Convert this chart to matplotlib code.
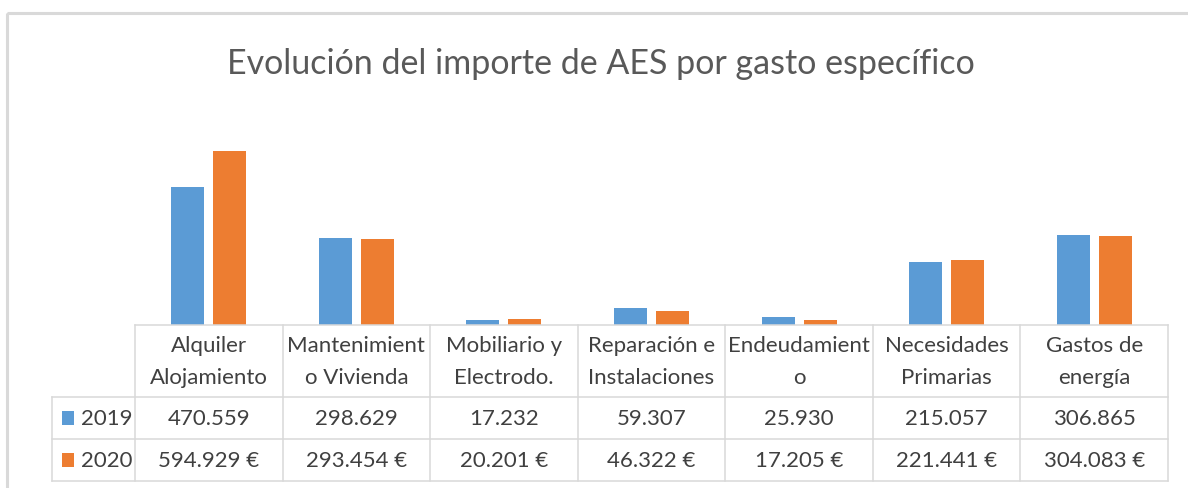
import numpy as np
import matplotlib.pyplot as plt
from matplotlib.patches import Rectangle

# data
categorias = ['Alquiler\nAlojamiento', 'Mantenimient\no Vivienda', 'Mobiliario y\nElectrodo.',
              'Reparación e\nInstalaciones', 'Endeudamient\no', 'Necesidades\nPrimarias',
              'Gastos de\nenergía']
anios = ['2019', '2020']
importe_2019 = [470559, 298629, 17232, 59307, 25930, 215057, 306865]
importe_2020 = [594929, 293454, 20201, 46322, 17205, 221441, 304083]

azul = '#5B9BD5'
naranja = '#ED7D31'
gris_linea = '#D9D9D9'
gris_texto = '#404040'

plt.rcParams['font.family'] = ['Lato', 'DejaVu Sans']

W, H = 1188, 489
fig = plt.figure(figsize=(W / 100, H / 100), dpi=100)

# pixel layout
t_left, t_right = 135, 1168
y_base = 326
px_per_unit = 0.2925  # px per 1000 EUR
ymax = 700

ax = fig.add_axes([t_left / W, 1 - y_base / H, (t_right - t_left) / W, ymax * px_per_unit / H])
x = np.arange(len(categorias))
ax.bar(x - 0.1425, np.array(importe_2019) / 1000, width=0.224, color=azul)
ax.bar(x + 0.1425, np.array(importe_2020) / 1000, width=0.224, color=naranja)
ax.set_xlim(-0.5, len(categorias) - 0.5)
ax.set_ylim(0, ymax)
ax.axis('off')

# overlay in pixel coords for table + frame
ov = fig.add_axes([0, 0, 1, 1], zorder=3)
ov.set_xlim(0, W)
ov.set_ylim(H, 0)
ov.axis('off')
ov.patch.set_alpha(0)

# chart frame (only left and top visible in the crop)
ov.add_patch(Rectangle((7, 14), 1400, 600, fill=False, edgecolor=gris_linea, lw=2.2))

fig.text(601 / W, 1 - 64 / H, 'Evolución del importe de AES por gasto específico',
         ha='center', va='center', fontsize=24.5, color='#595959')

# table
colw = (t_right - t_left) / len(categorias)
lab_left = 52
rows_y = [326, 398, 440, 482]
lw = 1.1
ov.plot([t_left, t_right], [rows_y[0]] * 2, color=gris_linea, lw=lw)
for yy in rows_y[1:]:
    ov.plot([lab_left, t_right], [yy, yy], color=gris_linea, lw=lw)
ov.plot([lab_left, lab_left], [rows_y[1], rows_y[3]], color=gris_linea, lw=lw)
for i in range(len(categorias) + 1):
    xx = t_left + i * colw
    ov.plot([xx, xx], [rows_y[0], rows_y[3]], color=gris_linea, lw=lw)

fs = 16
for i, cat in enumerate(categorias):
    cx = t_left + (i + 0.5) * colw
    ov.text(cx, 362, cat, ha='center', va='center', fontsize=fs, color=gris_texto,
            linespacing=1.75)
    ov.text(cx, 419, f'{importe_2019[i]:,}'.replace(',', '.'), ha='center', va='center',
            fontsize=fs, color=gris_texto)
    ov.text(cx, 461, f'{importe_2020[i]:,}'.replace(',', '.') + ' €', ha='center', va='center',
            fontsize=fs, color=gris_texto)

for yc, anio, col in zip([419, 461], anios, [azul, naranja]):
    ov.add_patch(Rectangle((62, yc - 7), 12, 14, color=col, lw=0))
    ov.text(81, yc, anio, ha='left', va='center', fontsize=fs, color=gris_texto)

fig.savefig('out.png', dpi=100)
